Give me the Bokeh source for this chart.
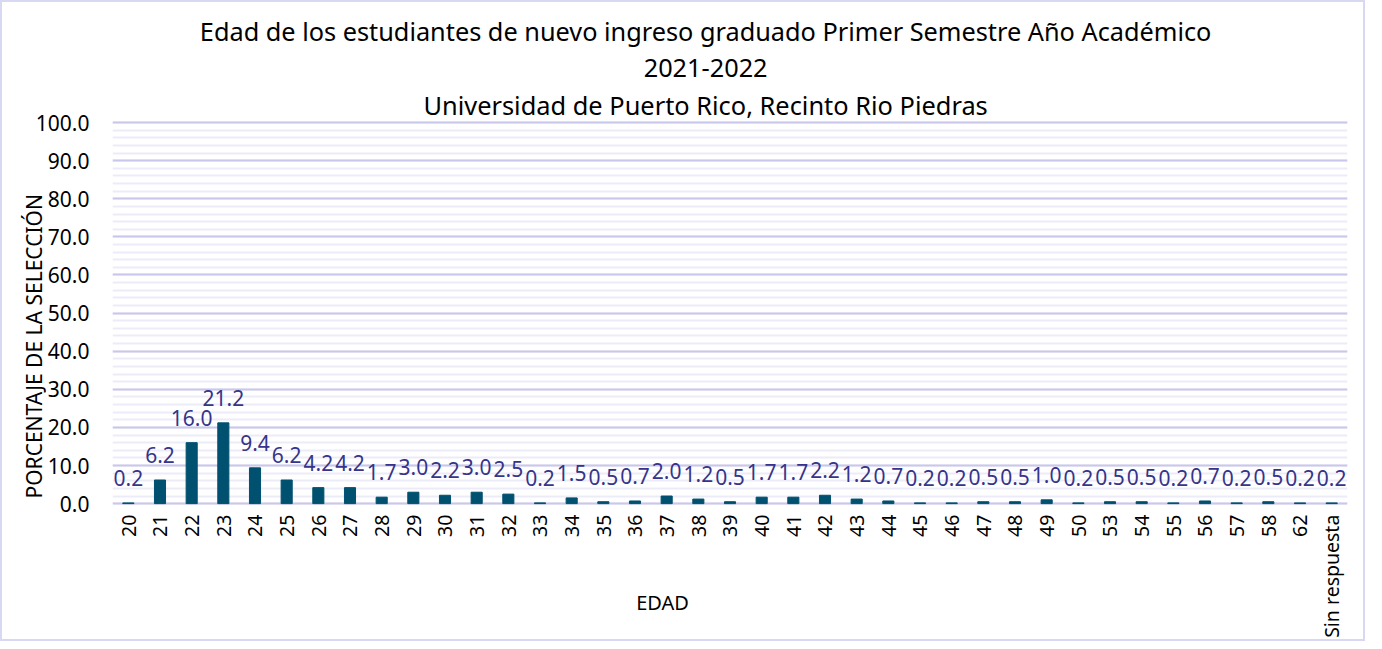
from bokeh.plotting import figure
from bokeh.models import ColumnDataSource, Label, FixedTicker, NumeralTickFormatter, LabelSet, Title
from bokeh.core.properties import value
from bokeh.embed import file_html
from bokeh.resources import INLINE

ages = ["20", "21", "22", "23", "24", "25", "26", "27", "28", "29", "30", "31", "32",
        "33", "34", "35", "36", "37", "38", "39", "40", "41", "42", "43", "44", "45",
        "46", "47", "48", "49", "50", "53", "54", "55", "56", "57", "58", "62",
        "Sin respuesta"]
percent = [0.2, 6.2, 16.0, 21.2, 9.4, 6.2, 4.2, 4.2, 1.7, 3.0, 2.2, 3.0, 2.5,
           0.2, 1.5, 0.5, 0.7, 2.0, 1.2, 0.5, 1.7, 1.7, 2.2, 1.2, 0.7, 0.2,
           0.2, 0.5, 0.5, 1.0, 0.2, 0.5, 0.5, 0.2, 0.7, 0.2, 0.5, 0.2, 0.2]
title_lines = ["Edad de los estudiantes de nuevo ingreso graduado Primer Semestre Año Académico",
               "2021-2022",
               "Universidad de Puerto Rico, Recinto Rio Piedras"]
y_ticks = [0, 10, 20, 30, 40, 50, 60, 70, 80, 90, 100]

FONT = "Noto Sans"
LABEL_COLOR = "#35348a"

src = ColumnDataSource(dict(age=ages, pct=percent, txt=["%.1f" % v for v in percent]))

p = figure(x_range=ages, y_range=(-36.7, 131.5), width=1365, height=641, title=None,
           output_backend="svg", toolbar_location=None,
           min_border_left=110, min_border_right=20, min_border_top=0, min_border_bottom=0)
p.styles = {"border": "2px solid #d9d8f2"}
p.outline_line_color = None

p.vbar(x="age", top="pct", width=0.35, source=src, color="#00506f")

labels = LabelSet(x="age", y="pct", text="txt", source=src, text_align="center",
                  text_baseline="middle", y_offset=25, text_color=LABEL_COLOR,
                  text_font=value(FONT), text_font_size="21px")
p.add_layout(labels)

# grid
p.xgrid.grid_line_color = None
p.ygrid.ticker = FixedTicker(ticks=y_ticks, minor_ticks=list(range(0, 101, 2)))
p.ygrid.grid_line_color = "#cac7ec"
p.ygrid.grid_line_width = 2
p.ygrid.minor_grid_line_color = "#ececf8"
p.ygrid.minor_grid_line_width = 2

# y axis
p.yaxis.ticker = FixedTicker(ticks=y_ticks)
p.yaxis.formatter = NumeralTickFormatter(format="0.0")
p.yaxis.axis_line_color = None
p.yaxis.major_tick_line_color = None
p.yaxis.minor_tick_line_color = None
p.yaxis.major_tick_out = 0
p.yaxis.major_tick_in = 0
p.yaxis.minor_tick_out = 0
p.yaxis.major_label_text_font = FONT
p.yaxis.major_label_text_font_size = "21px"
p.yaxis.major_label_text_color = "#000000"
p.yaxis.major_label_standoff = 23

# y axis title as a side title starting near the zero line
p.add_layout(Title(text="PORCENTAJE DE LA SELECCIÓN", align="left", offset=145,
                   vertical_align="bottom", standoff=-30, text_font=FONT,
                   text_font_size="21px", text_font_style="normal",
                   text_color="#000000"), "left")

# x axis fixed at zero, inside the frame
p.xaxis.fixed_location = 0
p.xaxis.axis_line_color = None
p.xaxis.major_tick_line_color = None
p.xaxis.major_tick_out = 0
p.xaxis.major_tick_in = 0
p.xaxis.major_label_orientation = 1.5708
p.xaxis.major_label_text_font = FONT
p.xaxis.major_label_text_font_size = "19.5px"
p.xaxis.major_label_text_color = "#000000"
p.xaxis.major_label_standoff = 11

# title lines and x axis title placed in data space
title_y = [123.9, 114.2, 104.7]
title_size = ["25.3px", "25.3px", "25.4px"]
for line, ty, fs in zip(title_lines, title_y, title_size):
    p.add_layout(Label(x=18.73, y=ty, text=line, text_align="center", text_baseline="middle",
                       text_font=FONT, text_font_size=fs, text_color="#000000"))
p.add_layout(Label(x=17.37, y=-26.0, text="EDAD", text_align="center", text_baseline="middle",
                   text_font=FONT, text_font_size="20px", text_color="#000000"))

open("out.html", "w").write(file_html(p, INLINE))
